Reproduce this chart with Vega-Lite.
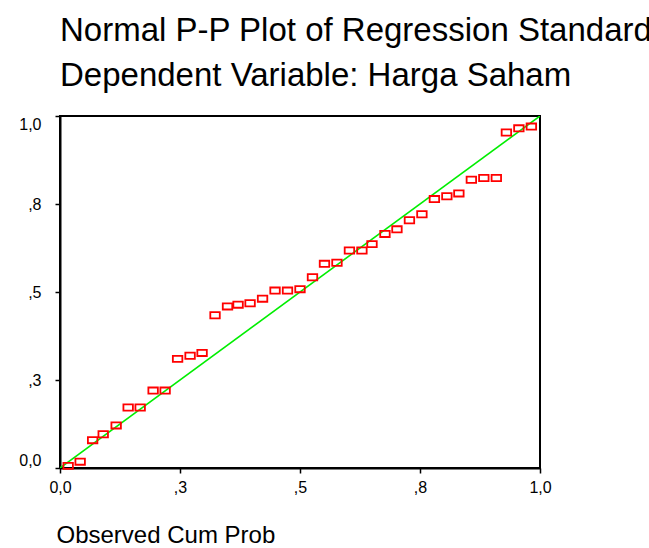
{
  "$schema": "https://vega.github.io/schema/vega-lite/v6.json",
  "width": 480,
  "height": 352,
  "autosize": "none",
  "padding": {"left": 60, "top": 116, "right": 109, "bottom": 80},
  "background": "white",
  "config": {
    "font": "Liberation Sans",
    "view": {"stroke": "black", "strokeWidth": 2},
    "axis": {"grid": false, "domainColor": "black", "domainWidth": 2, "tickColor": "black", "tickWidth": 1.5, "tickSize": 5, "labelColor": "black", "labelFont": "Liberation Sans", "labelFontSize": 16, "titleColor": "black", "titleFont": "Liberation Sans", "titleFontWeight": "normal"}
  },
  "title": {
    "text": ["Normal P-P Plot of Regression Standardized Residual", "Dependent Variable: Harga Saham"],
    "anchor": "start",
    "frame": "group",
    "font": "Liberation Sans",
    "fontSize": 33,
    "fontWeight": "normal",
    "color": "black",
    "lineHeight": 45,
    "offset": 22
  },
  "datasets": {
    "points": [
      {"obs": 0.017, "exp": 0.006},
      {"obs": 0.042, "exp": 0.018},
      {"obs": 0.068, "exp": 0.079},
      {"obs": 0.090, "exp": 0.096},
      {"obs": 0.117, "exp": 0.121},
      {"obs": 0.142, "exp": 0.172},
      {"obs": 0.167, "exp": 0.172},
      {"obs": 0.194, "exp": 0.220},
      {"obs": 0.219, "exp": 0.220},
      {"obs": 0.245, "exp": 0.310},
      {"obs": 0.271, "exp": 0.319},
      {"obs": 0.296, "exp": 0.327},
      {"obs": 0.323, "exp": 0.434},
      {"obs": 0.349, "exp": 0.459},
      {"obs": 0.371, "exp": 0.464},
      {"obs": 0.396, "exp": 0.468},
      {"obs": 0.422, "exp": 0.481},
      {"obs": 0.448, "exp": 0.504},
      {"obs": 0.474, "exp": 0.504},
      {"obs": 0.500, "exp": 0.508},
      {"obs": 0.526, "exp": 0.542},
      {"obs": 0.551, "exp": 0.580},
      {"obs": 0.577, "exp": 0.583},
      {"obs": 0.603, "exp": 0.618},
      {"obs": 0.629, "exp": 0.618},
      {"obs": 0.650, "exp": 0.636},
      {"obs": 0.677, "exp": 0.665},
      {"obs": 0.702, "exp": 0.678},
      {"obs": 0.728, "exp": 0.704},
      {"obs": 0.754, "exp": 0.721},
      {"obs": 0.780, "exp": 0.764},
      {"obs": 0.806, "exp": 0.772},
      {"obs": 0.831, "exp": 0.780},
      {"obs": 0.857, "exp": 0.819},
      {"obs": 0.883, "exp": 0.824},
      {"obs": 0.909, "exp": 0.824},
      {"obs": 0.930, "exp": 0.953},
      {"obs": 0.956, "exp": 0.965},
      {"obs": 0.982, "exp": 0.970}
    ],
    "diag": [
      {"obs": 0, "exp": 0},
      {"obs": 1, "exp": 1}
    ]
  },
  "encoding": {
    "x": {
      "field": "obs", "type": "quantitative",
      "scale": {"domain": [0, 1], "nice": false, "zero": false},
      "axis": {
        "values": [0, 0.25, 0.5, 0.75, 1],
        "labelExpr": "datum.value == 0 ? '0,0' : datum.value == 0.25 ? ',3' : datum.value == 0.5 ? ',5' : datum.value == 0.75 ? ',8' : '1,0'",
        "labelPadding": 6,
        "labelFlush": false,
        "title": "Observed Cum Prob",
        "titleFontSize": 24,
        "titleAnchor": "start",
        "titleAlign": "left",
        "titleX": -4,
        "titlePadding": 28
      }
    },
    "y": {
      "field": "exp", "type": "quantitative",
      "scale": {"domain": [0, 1], "nice": false, "zero": false},
      "axis": {
        "values": [0, 0.25, 0.5, 0.75, 1],
        "labelExpr": "datum.value == 0 ? '0,0' : datum.value == 0.25 ? ',3' : datum.value == 0.5 ? ',5' : datum.value == 0.75 ? ',8' : '1,0'",
        "labelPadding": 14,
        "labelFlush": true,
        "labelFlushOffset": 0,
        "title": null
      }
    }
  },
  "layer": [
    {
      "data": {"name": "diag"},
      "mark": {"type": "line", "color": "#00ee00", "strokeWidth": 1.6, "clip": true}
    },
    {
      "data": {"name": "points"},
      "mark": {"type": "point", "shape": "M-1,-0.65H1V0.65H-1Z", "size": 90, "filled": false, "stroke": "#ff0000", "strokeWidth": 1.8, "opacity": 1}
    }
  ]
}
